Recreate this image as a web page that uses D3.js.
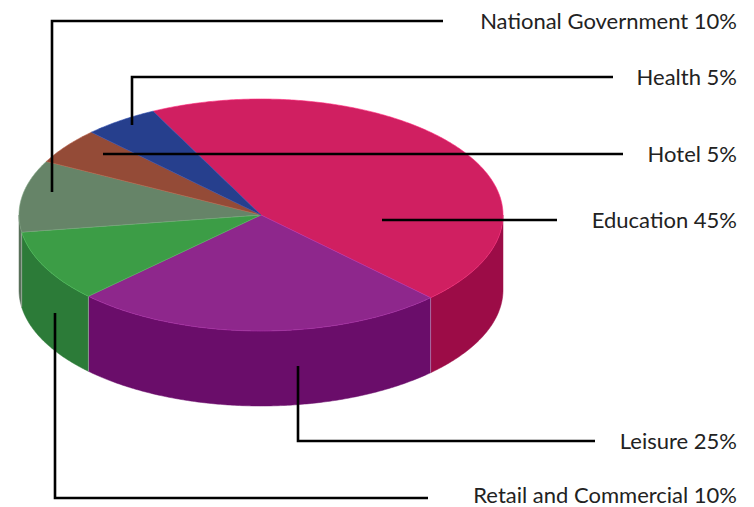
<!DOCTYPE html>
<html>
<head>
<meta charset="utf-8">
<script src="https://cdn.jsdelivr.net/npm/d3@7"></script>
<style>
  html, body { margin: 0; padding: 0; background: #fff; }
  svg { display: block; }
  text { font-family: "Lato", "Noto Sans", sans-serif; font-size: 22px; font-weight: 400; fill: #222; }
</style>
</head>
<body>
<svg id="chart" width="754" height="507"></svg>
<script>
// Sector shares (percent), clockwise from the top of the pie
const categories = ["Education", "Leisure", "Retail and Commercial", "National Government", "Hotel", "Health"];
const shares = [45, 25, 10, 10, 5, 5];
const labels = ["Education 45%", "Leisure 25%", "Retail and Commercial 10%", "National Government 10%", "Hotel 5%", "Health 5%"];

// Fill colours: top face and darker side wall for each sector
const topColors  = ["#d01f61", "#8e278c", "#3c9d46", "#668468", "#944b37", "#263f8d"];
const sideColors = ["#9c0c47", "#6a0d6a", "#2c7b38", "#58705a", "#7a3a28", "#1c2f6c"];

// Elliptical (tilted) pie geometry
const cx = 261, cy = 215, rx = 242, ry = 116, depth = 75;
const startDeg = -26.5;

// Leader line routes and label baselines
const leaders = [
  { path: [[382, 220], [557, 220]], y: 220 },
  { path: [[298, 366], [298, 441], [595, 441]], y: 441 },
  { path: [[55, 313], [55, 498], [428, 498]], y: 495 },
  { path: [[52, 192], [52, 21], [443, 21]], y: 21 },
  { path: [[103, 154], [623, 154]], y: 154 },
  { path: [[132, 125], [132, 77], [613, 77]], y: 77 }
];
const labelRight = 737;

const svg = d3.select("#chart");

const pie = d3.pie()
  .sort(null)
  .value(d => d)
  .startAngle(startDeg * Math.PI / 180)
  .endAngle(startDeg * Math.PI / 180 + 2 * Math.PI);
const arcs = pie(shares);

// Point on the ellipse at angle a (clockwise from 12 o'clock), shifted down by dy
const pt = (a, dy = 0) => [cx + rx * Math.sin(a), cy - ry * Math.cos(a) + dy];

function arcPoints(a0, a1, dy) {
  const n = Math.max(2, Math.ceil(Math.abs(a1 - a0) / 0.01));
  return d3.range(n + 1).map(i => pt(a0 + (a1 - a0) * i / n, dy));
}

const line = d3.line();

// Side walls: only the front half (angles between 90° and 270°) faces the viewer
const front0 = Math.PI / 2, front1 = 3 * Math.PI / 2;
const sides = svg.append("g");
arcs.forEach((d, i) => {
  // test the slice against the front half at each full turn
  [-2 * Math.PI, 0, 2 * Math.PI].forEach(shift => {
    const s = Math.max(d.startAngle + shift, front0);
    const e = Math.min(d.endAngle + shift, front1);
    if (e <= s) return;
    const pts = arcPoints(s, e, 0).concat(arcPoints(e, s, depth));
    sides.append("path")
      .attr("d", line(pts) + "Z")
      .attr("fill", sideColors[i])
      .attr("stroke", sideColors[i])
      .attr("stroke-width", 0.5);
  });
});

// Thin highlights at the wall seams
arcs.forEach(d => {
  let a = d.startAngle;
  while (a < 0) a += 2 * Math.PI;
  if (a > front0 && a < front1) {
    const p = pt(a);
    sides.append("line")
      .attr("x1", p[0]).attr("y1", p[1])
      .attr("x2", p[0]).attr("y2", p[1] + depth)
      .attr("stroke", "rgba(255,255,255,0.45)")
      .attr("stroke-width", 0.8);
  }
});

// Top faces
const tops = svg.append("g");
arcs.forEach((d, i) => {
  const pts = [[cx, cy]].concat(arcPoints(d.startAngle, d.endAngle, 0));
  tops.append("path")
    .attr("d", line(pts) + "Z")
    .attr("fill", topColors[i])
    .attr("stroke", d3.color(topColors[i]).brighter(0.6))
    .attr("stroke-width", 0.6)
    .attr("stroke-linejoin", "round");
});

// Leader lines and labels
const lab = svg.append("g");
leaders.forEach((l, i) => {
  lab.append("path")
    .attr("d", line(l.path))
    .attr("fill", "none")
    .attr("stroke", "#000")
    .attr("stroke-width", 2.6)
    .attr("stroke-linejoin", "miter");
  lab.append("text")
    .attr("x", labelRight)
    .attr("y", l.y)
    .attr("dy", "0.35em")
    .attr("text-anchor", "end")
    .text(labels[i]);
});
</script>
</body>
</html>
